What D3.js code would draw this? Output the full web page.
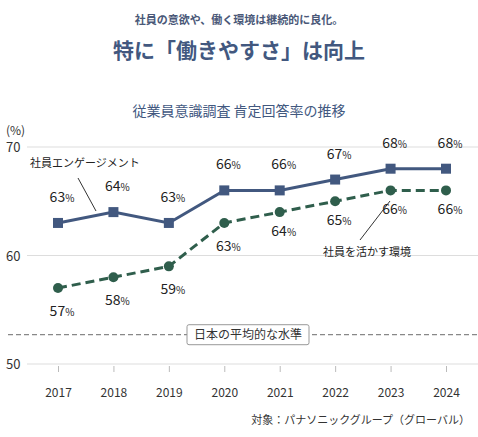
<!DOCTYPE html><html><head><meta charset="utf-8">
<script src="https://cdn.jsdelivr.net/npm/d3@7"></script>
<style>body{margin:0;background:#fff}text{font-family:"Noto Sans CJK JP",sans-serif}</style></head><body>
<svg id="c" width="478" height="437"></svg>
<script>
const years=["2017","2018","2019","2020","2021","2022","2023","2024"];
const engagement=[63,64,63,66,66,67,68,68];
const utilize=[57,58,59,63,64,65,66,66];
const yTicks=[50,60,70];
const benchmark=52.7;
const svg=d3.select("#c");
const x=d3.scalePoint().domain(years).range([58,446]);
const y=d3.scaleLinear().domain([50,70]).range([364,147]);
const navy="#42587f",green="#2f5e4c";
svg.append("text").attr("x",239).attr("y",24).attr("text-anchor","middle").attr("font-size",11).attr("font-weight",700).attr("fill","#4a5878").text("社員の意欲や、働く環境は継続的に良化。");
svg.append("text").attr("x",239).attr("y",58).attr("text-anchor","middle").attr("font-size",21).attr("font-weight",700).attr("fill","#42587f").text("特に「働きやすさ」は向上");
svg.append("text").attr("x",239).attr("y",116).attr("text-anchor","middle").attr("font-size",14).attr("fill","#42587f").text("従業員意識調査 肯定回答率の推移");
svg.append("text").attr("x",6).attr("y",135).attr("font-size",12).attr("fill","#333").text("(%)");
yTicks.forEach(t=>{
 svg.append("line").attr("x1",27).attr("x2",478).attr("y1",y(t)).attr("y2",y(t)).attr("stroke","#ddd");
 svg.append("text").attr("x",6).attr("y",y(t)+5).attr("font-size",13).attr("fill","#333").text(t);
});
svg.append("line").attr("x1",8).attr("x2",478).attr("y1",y(benchmark)).attr("y2",y(benchmark)).attr("stroke","#888").attr("stroke-dasharray","5,3").attr("stroke-width",1.3);
const bx=187,bw=122;
svg.append("rect").attr("x",bx).attr("y",y(benchmark)-10).attr("width",bw).attr("height",20).attr("fill","#fff").attr("stroke","#999").attr("rx",2);
svg.append("text").attr("x",bx+bw/2).attr("y",y(benchmark)+4.5).attr("text-anchor","middle").attr("font-size",12).attr("fill","#333").text("日本の平均的な水準");
const xa=svg.append("g").attr("transform","translate(0,374)").call(d3.axisBottom(x).tickSize(6).tickSizeOuter(0));
xa.select(".domain").remove();xa.selectAll("line").attr("stroke","#bbb").attr("transform","translate(0,-8)");
xa.selectAll("text").attr("font-size",12).attr("fill","#333").attr("font-family","Noto Sans CJK JP").attr("dy","1.2em");
const line=d3.line().x((d,i)=>x(years[i])).y(d=>y(d));
svg.append("path").datum(utilize).attr("d",line).attr("fill","none").attr("stroke",green).attr("stroke-width",3).attr("stroke-dasharray","9,5");
svg.append("path").datum(engagement).attr("d",line).attr("fill","none").attr("stroke",navy).attr("stroke-width",3);
svg.selectAll(".u").data(utilize).enter().append("circle").attr("cx",(d,i)=>x(years[i])).attr("cy",d=>y(d)).attr("r",5).attr("fill",green);
svg.selectAll(".e").data(engagement).enter().append("rect").attr("x",(d,i)=>x(years[i])-5).attr("y",d=>y(d)-5).attr("width",10).attr("height",10).attr("fill",navy);
function lab(v,cx,cy){const t=svg.append("text").attr("x",cx).attr("y",cy).attr("text-anchor","middle").attr("fill","#222");
 t.append("tspan").attr("font-size",14).text(v);t.append("tspan").attr("font-size",10).text("%");}
engagement.forEach((v,i)=>lab(v,x(years[i])+4,y(v)-21));
utilize.forEach((v,i)=>lab(v,x(years[i])+4,y(v)+ (i>=4?24:28)));
svg.append("text").attr("x",30).attr("y",167).attr("font-size",11).attr("fill","#222").text("社員エンゲージメント");
svg.append("line").attr("x1",78).attr("y1",178).attr("x2",96).attr("y2",211).attr("stroke","#333");
svg.append("text").attr("x",323).attr("y",256).attr("font-size",11).attr("fill","#222").text("社員を活かす環境");
svg.append("line").attr("x1",360).attr("y1",240).attr("x2",390).attr("y2",201).attr("stroke","#333");
svg.append("text").attr("x",470).attr("y",424).attr("text-anchor","end").attr("font-size",11).attr("fill","#333").text("対象：パナソニックグループ（グローバル）");
</script></body></html>
